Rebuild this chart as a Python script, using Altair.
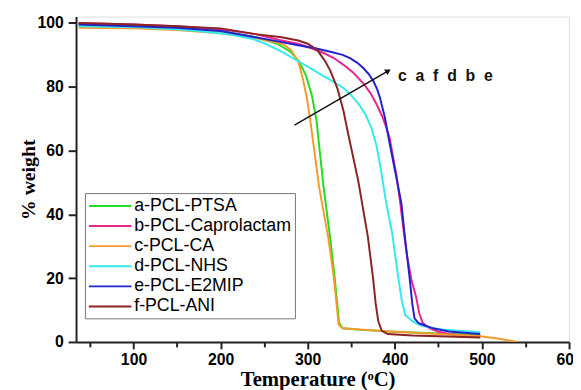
import altair as alt
import pandas as pd

# ---- data (Temperature in °C, % weight) ----
series_names = ["a-PCL-PTSA", "b-PCL-Caprolactam", "c-PCL-CA",
                "d-PCL-NHS", "e-PCL-E2MIP", "f-PCL-ANI"]
series_colors = ["#22dd22", "#e8258c", "#f79a2e", "#33eaee", "#2222cc", "#8b2323"]

a_x = [37, 100, 150, 200, 240, 265, 280, 290, 298, 305, 310, 318, 326, 331, 336, 340, 360, 400, 450, 498]
a_y = [99.5, 99, 98.5, 97.5, 95.5, 93.5, 91, 88, 83.5, 77, 69.5, 49, 32, 20, 6, 4.3, 3.8, 3.2, 2.7, 2.3]

b_x = [37, 100, 150, 200, 240, 270, 289, 305, 319, 330, 341.5, 352, 364, 372, 379, 385, 389, 394, 398,
       402, 406, 410, 414, 419, 424.5, 428, 432, 439.6, 450, 462, 480, 498]
b_y = [100, 99.5, 99, 98, 96.5, 94.5, 93.5, 92, 90.5, 89, 86.8, 84.5, 81, 78, 74.5, 71, 68.2, 64, 58,
       52, 44, 35, 27, 19.5, 14, 9, 6, 4.3, 3.2, 2.5, 2, 1.8]

c_x = [37, 100, 150, 200, 240, 262, 272, 281, 289, 294, 299, 303, 313, 324, 330, 335.5, 340, 360, 394,
       450, 498, 520, 541]
c_y = [98.5, 98.3, 97.8, 96.8, 95.3, 94, 93.3, 91.5, 88, 83, 76.5, 69.3, 48.7, 32, 20, 5.5, 4.3, 3.9, 3.3,
       2.5, 1.8, 1, 0]

d_x = [37, 100, 150, 200, 213, 237, 251, 270, 289, 305, 319, 330, 341.5, 350, 358, 366, 373, 379, 384,
       389.5, 397, 403.5, 408, 412, 420, 428, 440, 458, 480, 498]
d_y = [99, 98.7, 98, 96.8, 96.3, 95, 93.5, 91, 88, 85.5, 83.2, 81.5, 79.5, 77.3, 74.8, 71.5, 67.2, 61.5, 54,
       44.5, 34, 21, 13, 8.5, 6.5, 5.4, 4.5, 3.8, 3.4, 3.1]

e_x = [37, 100, 150, 200, 240, 270, 289, 310, 326, 340, 349, 357, 364, 370, 375.5, 380, 383, 388.6, 393.5,
       400, 407.5, 411.5, 417, 420, 422.6, 427, 432, 445, 462, 480, 498]
e_y = [99.5, 99, 98.5, 97.5, 95.5, 94, 93, 92, 91, 90, 88.9, 87.5, 85.8, 84, 81.7, 79, 76.5, 70.3, 63,
       54, 43.5, 33, 20, 12, 7.4, 6, 5.4, 4.2, 3.3, 2.9, 2.5]

f_x = [37, 100, 150, 200, 240, 270, 289, 300, 311, 320, 326, 334, 341, 347, 358, 369, 375, 378, 381, 385,
       392, 420, 460, 498]
f_y = [100, 99.5, 99, 98.3, 96.5, 95.5, 94.5, 93.5, 91.5, 88, 85, 79.5, 72.5, 64.5, 50.5, 33, 20, 12, 6.5,
       3.5, 2.5, 2, 1.7, 1.4]

arrow_x = [284.8, 392.4]
arrow_y = [68, 85]
note_text = ["c\u00a0\u00a0a\u00a0\u00a0f\u00a0\u00a0d\u00a0\u00a0b\u00a0\u00a0e"]
note_x = [403.7]
note_y = [83.2]

x_ticks = list(range(50, 601, 50))
y_ticks = list(range(0, 101, 10))

# ---- build tables ----
xs = [a_x, b_x, c_x, d_x, e_x, f_x]
ys = [a_y, b_y, c_y, d_y, e_y, f_y]
rows = []
for name, sx, sy in zip(series_names, xs, ys):
    for i, (xv, yv) in enumerate(zip(sx, sy)):
        rows.append({"series": name, "T": xv, "W": yv, "i": i})
df = pd.DataFrame(rows)
arrow_df = pd.DataFrame({"T": arrow_x, "W": arrow_y})
head_df = arrow_df.tail(1)
note_df = pd.DataFrame({"T": note_x, "W": note_y, "label": note_text})

xscale = alt.Scale(domain=[34, 600], nice=False, zero=False)
yscale = alt.Scale(domain=[0, 102], nice=False, zero=False)

x_axis = alt.Axis(
    title="Temperature (\u1d52C)", values=x_ticks,
    labelExpr="datum.value % 100 === 0 ? datum.label : ''",
    grid=False, domainColor="#222", domainWidth=2, tickColor="#222", tickWidth=2,
    tickSize={"condition": {"test": "datum.value % 100 === 0", "value": 7}, "value": 5},
    labelFont="Liberation Sans", labelFontWeight="bold", labelFontSize=16, labelColor="black",
    labelPadding=3, labelFlush=False, labelOverlap=False,
    titleFont="Liberation Serif", titleFontWeight="bold", titleFontSize=21, titleColor="black",
    titlePadding=1, titleX=245,
)
y_axis = alt.Axis(
    title="% weight", values=y_ticks,
    labelExpr="datum.value % 20 === 0 ? datum.label : ''",
    grid=False, domainColor="#222", domainWidth=2, tickColor="#222", tickWidth=2,
    tickSize={"condition": {"test": "datum.value % 20 === 0", "value": 8}, "value": 5},
    labelFont="Liberation Sans", labelFontWeight="bold", labelFontSize=16, labelColor="black",
    labelPadding=5, labelFlush=False, labelOverlap=False,
    titleFont="Liberation Serif", titleFontWeight="bold", titleFontSize=20, titleColor="black",
    titlePadding=-2,
)

lines = alt.Chart(df).mark_line(strokeWidth=2, clip=True).encode(
    x=alt.X("T:Q", scale=xscale, axis=x_axis),
    y=alt.Y("W:Q", scale=yscale, axis=y_axis),
    color=alt.Color("series:N", scale=alt.Scale(domain=series_names, range=series_colors),
                    legend=alt.Legend(
                        title=None, orient="none", legendX=9, legendY=179,
                        symbolType="M-1,0H3.8", symbolSize=324, symbolStrokeWidth=2,
                        labelFont="Liberation Sans", labelFontSize=18, labelColor="black",
                        labelOffset=27, rowPadding=1.4, padding=3,
                        strokeColor="#777", fillColor="white")),
    order="i:Q",
)

arrow = alt.Chart(arrow_df).mark_line(color="#111", strokeWidth=1.5).encode(
    x=alt.X("T:Q", scale=xscale), y=alt.Y("W:Q", scale=yscale))
head = alt.Chart(head_df).mark_point(shape="triangle-up", filled=True, color="#111",
                                     size=45, angle=60, opacity=1).encode(
    x=alt.X("T:Q", scale=xscale), y=alt.Y("W:Q", scale=yscale))
note = alt.Chart(note_df).mark_text(align="left", baseline="middle", font="Liberation Sans",
                                    fontWeight="bold", fontSize=16, color="#111").encode(
    x=alt.X("T:Q", scale=xscale), y=alt.Y("W:Q", scale=yscale), text="label:N")

chart = alt.layer(lines, arrow, head, note).properties(
    width=500, height=330,
    autosize=alt.AutoSizeParams(type="none"),
    padding={"left": 69, "top": 6, "right": 4, "bottom": 46},
).configure_view(stroke="#333", strokeWidth=2).configure(background="white")

chart.save("out.html", embed_options={"renderer": "svg", "actions": False})
